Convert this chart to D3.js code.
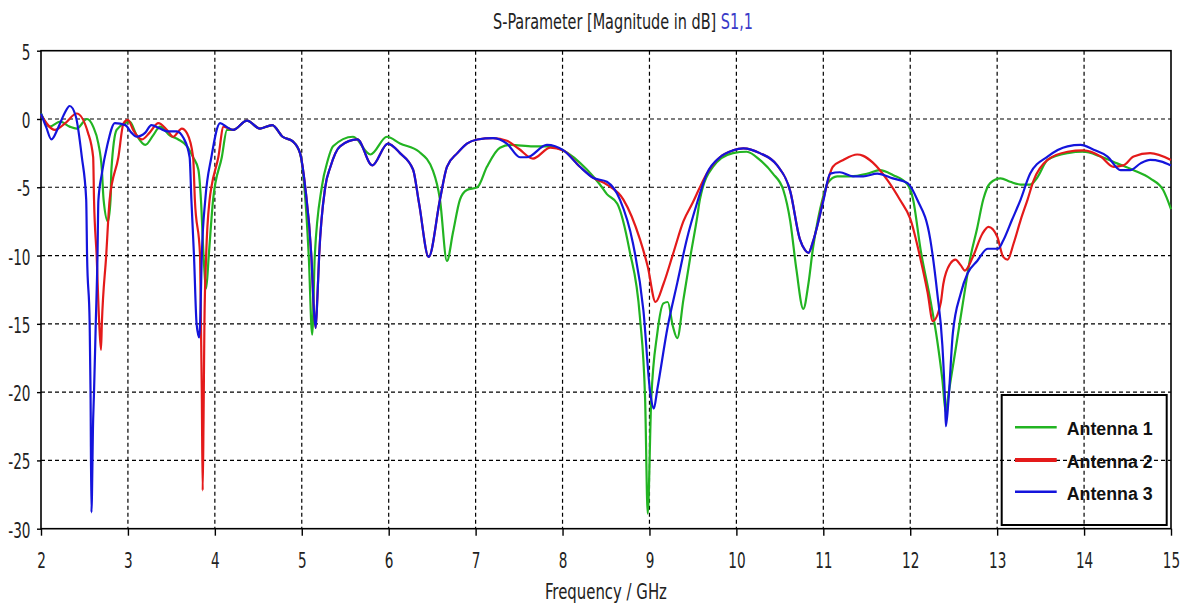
<!DOCTYPE html>
<html>
<head>
<meta charset="utf-8">
<script src="https://cdn.jsdelivr.net/npm/d3@7"></script>
<style>
body { margin: 0; background: #fff; }
svg text { font-family: "DejaVu Sans Condensed", "DejaVu Sans", sans-serif; }
</style>
</head>
<body>
<div id="chart"></div>
<script>
// tick values
var freqTicks = [2, 3, 4, 5, 6, 7, 8, 9, 10, 11, 12, 13, 14, 15]
var dbTicks = [5, 0, -5, -10, -15, -20, -25, -30]
var seriesNames = ["Antenna 1", "Antenna 2", "Antenna 3"]
var seriesColors = ["#22b422", "#e41a1a", "#1414dc"]

// [frequency GHz, S11 dB]
var antenna1 = [[2.00,0.4],[2.10,-0.56],[2.22,-0.2],[2.33,-0.56],[2.41,-0.7],[2.53,0.0],[2.60,-0.56],
  [2.66,-1.8],[2.70,-3.7],[2.72,-5.9],[2.77,-7.5],[2.80,-5.9],[2.81,-3.7],[2.87,-0.8],[2.97,-0.3],
  [3.02,-0.2],[3.10,-1.2],[3.20,-1.9],[3.29,-1.2],[3.37,-0.56],[3.48,-1.2],[3.58,-1.5],[3.68,-2.0],
  [3.75,-2.8],[3.81,-3.7],[3.84,-5.9],[3.87,-10],[3.90,-12.4],[3.93,-10],[3.98,-5.9],[4.08,-2.8],
  [4.14,-0.8],[4.21,-0.8],[4.37,-0.12],[4.52,-0.7],[4.66,-0.45],[4.78,-1.3],[4.90,-1.66],[4.98,-2.5],
  [5.03,-5],[5.08,-10],[5.12,-15.8],[5.15,-10],[5.23,-5],[5.30,-3],[5.36,-2.0],[5.59,-1.3],[5.79,-2.6],
  [5.98,-1.3],[6.13,-1.8],[6.35,-2.4],[6.51,-3.8],[6.59,-5.9],[6.67,-10.4],[6.74,-8.3],[6.82,-5.9],
  [6.90,-5.2],[7.02,-5.0],[7.13,-3.5],[7.28,-2.1],[7.40,-1.9],[7.66,-2.0],[7.82,-2.0],[8.01,-2.3],
  [8.28,-3.7],[8.43,-4.8],[8.51,-5.5],[8.63,-6.2],[8.77,-9.6],[8.89,-14.5],[8.95,-20.5],[8.98,-28.9],
  [9.02,-20.6],[9.09,-15.7],[9.16,-13.5],[9.21,-13.4],[9.27,-15.2],[9.32,-16.05],[9.39,-13.25],
  [9.47,-10.1],[9.55,-7.15],[9.58,-5.9],[9.73,-3.5],[9.96,-2.5],[10.12,-2.4],[10.27,-3.0],[10.42,-4.0],
  [10.54,-5.2],[10.62,-7.5],[10.69,-11],[10.77,-13.9],[10.83,-12.0],[10.88,-9.5],[10.94,-7.3],
  [10.99,-5.9],[11.05,-4.7],[11.16,-4.2],[11.31,-4.2],[11.51,-4.0],[11.65,-3.75],[11.80,-4.1],
  [11.97,-4.8],[12.03,-5.8],[12.12,-9.6],[12.23,-13.2],[12.31,-16.2],[12.37,-19.1],[12.41,-21.5],
  [12.43,-20.6],[12.52,-16.95],[12.61,-13.3],[12.69,-10.2],[12.77,-8.0],[12.84,-5.9],[12.92,-4.7],
  [13.04,-4.35],[13.15,-4.6],[13.27,-4.8],[13.38,-4.8],[13.46,-4.3],[13.58,-3.0],[13.81,-2.5],
  [13.99,-2.4],[14.19,-2.75],[14.38,-3.25],[14.57,-3.75],[14.76,-4.35],[14.91,-5.2],[15.00,-6.6]]

var antenna2 = [[2.00,0.3],[2.16,-0.8],[2.28,-0.3],[2.41,0.4],[2.54,-1.0],[2.60,-2.8],[2.61,-5.9],
  [2.64,-10],[2.67,-15],[2.69,-16.9],[2.70,-15],[2.75,-10],[2.79,-5.9],[2.89,-2.8],[2.95,-0.3],
  [3.00,-0.07],[3.06,-0.8],[3.16,-1.5],[3.25,-1.0],[3.35,-0.3],[3.45,-0.8],[3.52,-1.3],[3.62,-0.7],
  [3.68,-1.05],[3.75,-2.8],[3.77,-5.9],[3.83,-10],[3.84,-15],[3.85,-20],[3.86,-27.2],[3.87,-22],
  [3.88,-15],[3.90,-10],[3.94,-5.9],[3.96,-5],[4.04,-2.8],[4.10,-0.56],[4.21,-0.8],[4.37,-0.12],
  [4.52,-0.7],[4.66,-0.45],[4.78,-1.3],[4.90,-1.66],[4.98,-2.5],[5.04,-5],[5.11,-10],[5.14,-14],
  [5.16,-15.3],[5.18,-13],[5.20,-10],[5.27,-5],[5.33,-3.5],[5.44,-2.0],[5.64,-1.5],[5.81,-3.4],
  [5.99,-1.8],[6.13,-2.5],[6.28,-3.7],[6.35,-6.2],[6.46,-10.1],[6.59,-5.9],[6.67,-3.5],[6.79,-2.5],
  [6.90,-1.8],[7.02,-1.5],[7.20,-1.4],[7.36,-1.6],[7.50,-2.2],[7.66,-2.9],[7.86,-2.1],[8.01,-2.3],
  [8.20,-3.5],[8.35,-4.3],[8.51,-4.8],[8.70,-5.9],[8.89,-8.8],[8.98,-10.8],[9.07,-13.4],[9.16,-12.1],
  [9.28,-9.7],[9.39,-7.5],[9.50,-6.1],[9.58,-5.0],[9.66,-4.0],[9.81,-2.8],[9.96,-2.3],[10.08,-2.15],
  [10.27,-2.5],[10.47,-3.4],[10.62,-5.3],[10.73,-8.8],[10.79,-9.6],[10.83,-9.8],[10.88,-9.0],
  [10.94,-7.6],[11.00,-5.9],[11.11,-3.5],[11.23,-3.0],[11.39,-2.6],[11.46,-2.7],[11.57,-3.2],
  [11.74,-4.5],[11.88,-5.9],[12.00,-7.3],[12.12,-10.3],[12.20,-12.7],[12.26,-14.8],[12.35,-13.5],
  [12.38,-12.1],[12.46,-10.6],[12.52,-10.3],[12.58,-10.7],[12.63,-11.1],[12.72,-10.1],[12.83,-8.4],
  [12.90,-7.9],[13.00,-8.6],[13.07,-10.1],[13.12,-10.3],[13.19,-9.1],[13.27,-7.4],[13.35,-5.9],
  [13.42,-4.5],[13.58,-3.0],[13.81,-2.4],[13.99,-2.3],[14.19,-2.75],[14.34,-3.5],[14.45,-3.4],
  [14.57,-2.75],[14.76,-2.5],[15.00,-3.0]]

var antenna3 = [[2.00,0.4],[2.06,-0.6],[2.12,-1.5],[2.20,-0.6],[2.27,0.4],[2.33,0.95],[2.40,0.2],
  [2.47,-2.8],[2.52,-5.9],[2.53,-10],[2.56,-15],[2.57,-20],[2.58,-28.8],[2.60,-22],[2.61,-20],
  [2.63,-15],[2.65,-10],[2.66,-6],[2.70,-4],[2.76,-2],[2.85,-0.3],[2.97,-0.45],[3.04,-1.0],[3.10,-1.3],
  [3.20,-1.0],[3.27,-0.45],[3.37,-0.7],[3.45,-0.9],[3.56,-0.9],[3.64,-1.4],[3.71,-2.8],[3.73,-5.9],
  [3.76,-10],[3.79,-15],[3.82,-16],[3.83,-15],[3.85,-10],[3.89,-5.9],[3.96,-2.8],[4.06,-0.3],
  [4.14,-0.6],[4.21,-0.8],[4.37,-0.12],[4.52,-0.7],[4.66,-0.45],[4.78,-1.3],[4.90,-1.66],[4.98,-2.5],
  [5.04,-5],[5.11,-10],[5.14,-14],[5.16,-15.3],[5.18,-13],[5.20,-10],[5.27,-5],[5.33,-3.5],[5.44,-2.0],
  [5.64,-1.5],[5.81,-3.4],[5.99,-1.8],[6.13,-2.5],[6.28,-3.7],[6.35,-6.2],[6.46,-10.1],[6.59,-5.9],
  [6.67,-3.5],[6.79,-2.5],[6.90,-1.8],[7.02,-1.5],[7.20,-1.4],[7.36,-1.8],[7.51,-2.8],[7.59,-2.8],
  [7.82,-1.9],[8.01,-2.3],[8.20,-3.5],[8.35,-4.3],[8.51,-4.6],[8.66,-5.9],[8.81,-9.1],[8.93,-14.0],
  [9.01,-20.1],[9.05,-21.2],[9.09,-19.8],[9.21,-15.2],[9.32,-12.0],[9.43,-8.8],[9.55,-6.1],[9.66,-4.0],
  [9.81,-2.8],[9.96,-2.3],[10.08,-2.15],[10.27,-2.5],[10.47,-3.4],[10.62,-5.3],[10.73,-8.8],
  [10.79,-9.6],[10.83,-9.8],[10.88,-9.0],[10.94,-7.6],[11.00,-6.0],[11.08,-4.0],[11.19,-3.9],
  [11.34,-4.2],[11.46,-4.2],[11.62,-4.0],[11.80,-4.35],[11.97,-4.7],[12.08,-5.9],[12.23,-8.8],
  [12.31,-12.7],[12.37,-16.6],[12.40,-20.6],[12.41,-22.5],[12.44,-20.6],[12.49,-15.7],[12.58,-12.8],
  [12.66,-11.3],[12.77,-10.4],[12.89,-9.5],[13.01,-9.5],[13.07,-8.9],[13.17,-7.4],[13.27,-5.9],
  [13.38,-4.0],[13.58,-2.75],[13.81,-2.0],[13.96,-1.9],[14.11,-2.25],[14.27,-2.75],[14.42,-3.75],
  [14.53,-3.75],[14.65,-3.25],[14.76,-3.0],[14.88,-3.1],[15.00,-3.4]]

var allSeries = [antenna1, antenna2, antenna3]

var w = 1183, h = 607

var svg = d3.select("#chart")
	.append("svg")
	.attr("width", w)
	.attr("height", h)

// plot frame from the picture
var plotL = 41, plotR = 1171, plotT = 50.7, plotB = 528.7

var x = d3.scaleLinear().domain([2, 15]).range([plotL, plotR])
var y = d3.scaleLinear().domain([-30, 5]).range([plotB, plotT])

// dashed grid
var gridG = svg.append("g")
	.attr("stroke", "#000")
	.attr("stroke-width", 1.2)
	.attr("stroke-dasharray", "4,3")

gridG.selectAll(".vgrid")
	.data(freqTicks.slice(1, -1))
	.join("line")
	.attr("x1", d => x(d)).attr("x2", d => x(d))
	.attr("y1", plotT).attr("y2", plotB)

gridG.selectAll(".hgrid")
	.data(dbTicks.slice(1, -1))
	.join("line")
	.attr("x1", plotL).attr("x2", plotR)
	.attr("y1", d => y(d)).attr("y2", d => y(d))

// text squeeze, the picture has narrow lettering
var sx = 0.72
var tickFont = 21
// plain hyphen like the original, not a unicode minus
var plainNum = d => String(d)

// x axis
var xAxis = svg.append("g")
	.attr("transform", "translate(0," + plotB + ")")
	.call(d3.axisBottom(x).tickValues(freqTicks).tickSize(7).tickFormat(plainNum))
xAxis.select(".domain").remove()
xAxis.selectAll("line").attr("stroke", "#000").attr("stroke-width", 1.4)
xAxis.selectAll("text")
	.attr("x", 0).attr("y", 39).attr("dy", 0)
	.attr("font-size", tickFont)
	.attr("fill", "#222")
	.attr("transform", "scale(" + sx + ",1)")
	.style("font-family", "'DejaVu Sans Condensed','DejaVu Sans',sans-serif")

// y axis
var yAxis = svg.append("g")
	.attr("transform", "translate(" + plotL + ",0)")
	.call(d3.axisLeft(y).tickValues(dbTicks).tickSize(4).tickFormat(plainNum))
yAxis.select(".domain").remove()
yAxis.selectAll("line").attr("stroke", "#000").attr("stroke-width", 1.4)
yAxis.selectAll("text")
	.attr("x", -10.5 / sx).attr("dy", 0).attr("y", 8.5)
	.attr("font-size", tickFont)
	.attr("fill", "#222")
	.attr("transform", "scale(" + sx + ",1)")
	.style("font-family", "'DejaVu Sans Condensed','DejaVu Sans',sans-serif")

// frame
svg.append("rect")
	.attr("x", plotL).attr("y", plotT)
	.attr("width", plotR - plotL).attr("height", plotB - plotT)
	.attr("fill", "none")
	.attr("stroke", "#000")
	.attr("stroke-width", 1.6)

// curves
var line = d3.line()
	.x(d => x(d[0]))
	.y(d => y(d[1]))
	.curve(d3.curveMonotoneX)

svg.append("g")
	.selectAll("path")
	.data(allSeries)
	.join("path")
	.attr("d", line)
	.attr("fill", "none")
	.attr("stroke", (d, i) => seriesColors[i])
	.attr("stroke-width", 2.2)
	.attr("stroke-linejoin", "round")

// squeeze a text to a width
function fitText(t, targetW) {
	var len = t.node().getComputedTextLength()
	return targetW / len
}

// title
var title = svg.append("text")
	.attr("font-size", 21)
	.attr("fill", "#222")
title.append("tspan").text("S-Parameter [Magnitude in dB] ")
title.append("tspan").attr("fill", "#3a3ac8").text("S1,1")
var ts = fitText(title, 260)
title.attr("transform", "translate(493,29) scale(" + ts + ",1)")

// x label
var xlab = svg.append("text")
	.attr("font-size", 21)
	.attr("fill", "#222")
	.text("Frequency / GHz")
var xs = fitText(xlab, 122)
xlab.attr("transform", "translate(545,599) scale(" + xs + ",1)")

// legend (transparent, grid shows through)
var legG = svg.append("g")
legG.append("rect")
	.attr("x", 1001.7).attr("y", 395)
	.attr("width", 165).attr("height", 130)
	.attr("fill", "none")
	.attr("stroke", "#000")
	.attr("stroke-width", 2)

var legRows = [427.3, 460, 491.7]
var legWidths = [2.5, 4, 2.5]
seriesNames.forEach(function(name, i) {
	legG.append("line")
		.attr("x1", 1015).attr("x2", 1056.7)
		.attr("y1", legRows[i]).attr("y2", legRows[i])
		.attr("stroke", seriesColors[i])
		.attr("stroke-width", legWidths[i])
	var t = legG.append("text")
		.attr("font-size", 19)
		.attr("font-weight", "bold")
		.attr("fill", "#111")
		.style("font-family", "'Liberation Sans', Arial, sans-serif")
		.text(name)
	var s = fitText(t, 86)
	t.attr("transform", "translate(1066.7," + (legRows[i] + 8) + ") scale(" + s + ",1)")
})
</script>
</body>
</html>
